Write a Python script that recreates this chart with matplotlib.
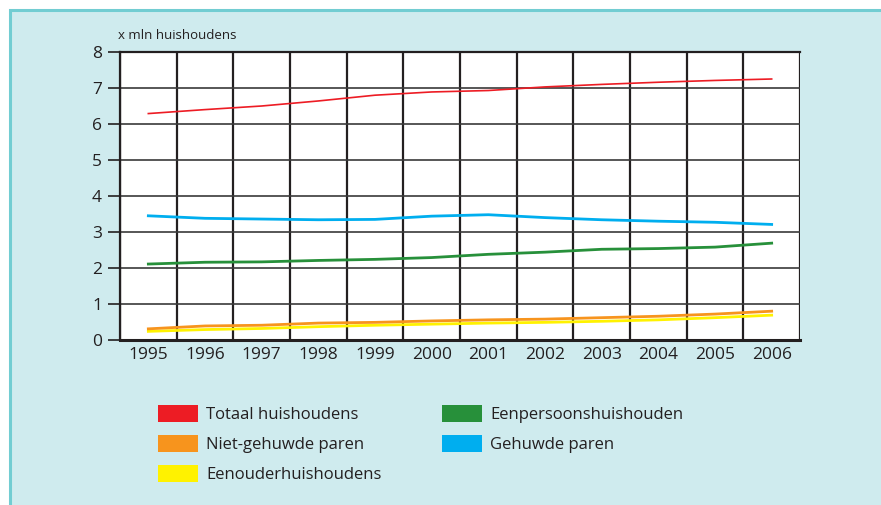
import matplotlib.pyplot as plt
from matplotlib.patches import Rectangle, Patch

plt.rcParams['font.family'] = ['Open Sans', 'DejaVu Sans']

jaren = ['1995', '1996', '1997', '1998', '1999', '2000',
         '2001', '2002', '2003', '2004', '2005', '2006']

# waarden in miljoenen huishoudens
totaal = [6.29, 6.40, 6.50, 6.64, 6.80, 6.89, 6.93, 7.03, 7.10, 7.16, 7.21, 7.25]
gehuwd = [3.45, 3.38, 3.36, 3.34, 3.35, 3.44, 3.48, 3.40, 3.34, 3.30, 3.27, 3.21]
eenpersoons = [2.11, 2.16, 2.17, 2.21, 2.24, 2.29, 2.38, 2.44, 2.52, 2.54, 2.58, 2.69]
niet_gehuwd = [0.31, 0.39, 0.41, 0.47, 0.49, 0.53, 0.56, 0.58, 0.62, 0.66, 0.72, 0.80]
eenouder = [0.24, 0.29, 0.32, 0.37, 0.41, 0.44, 0.47, 0.49, 0.52, 0.56, 0.62, 0.69]

rood = '#ed1c24'
oranje = '#f7941d'
geel = '#fff200'
groen = '#27903a'
blauw = '#00aeef'

fig = plt.figure(figsize=(8.81, 5.05), dpi=100)
fig.patch.set_facecolor('white')

# lichtblauw kader
kader = Rectangle((10 / 881, -0.05), 1.0, 1.0 - 10 / 505 + 0.05,
                  transform=fig.transFigure, facecolor='#cfebee',
                  edgecolor='#72cdd2', linewidth=2.2, zorder=0)
fig.add_artist(kader)

ax = fig.add_axes([120 / 881, 1 - 340 / 505, 680 / 881, 288 / 505])
ax.set_facecolor('white')

x = list(range(len(jaren)))
ax.plot(x, eenouder, color=geel, lw=2.0, zorder=3)
ax.plot(x, niet_gehuwd, color=oranje, lw=2.0, zorder=4)
ax.plot(x, eenpersoons, color=groen, lw=2.0, zorder=3)
ax.plot(x, gehuwd, color=blauw, lw=2.0, zorder=3)
ax.plot(x, totaal, color=rood, lw=1.2, zorder=3)

ax.set_xlim(-0.5, len(jaren) - 0.5)
ax.set_ylim(0, 8)

ax.set_xticks(x)
ax.set_xticklabels(jaren)
ax.set_xticks([i - 0.5 for i in range(len(jaren) + 1)], minor=True)
ax.set_yticks(range(0, 9))
ax.tick_params(axis='x', which='major', length=0, labelsize=12.5,
               pad=5, colors='#231f20')
ax.tick_params(axis='x', which='minor', length=0)
ax.tick_params(axis='y', length=9, width=1.2, color='#231f20',
               labelsize=12.5, pad=4, labelcolor='#231f20')

ax.grid(True, which='minor', axis='x', color='#231f20', lw=1.6, zorder=1)
ax.grid(True, which='major', axis='y', color='#3a3a3a', lw=1.2, zorder=1)
ax.set_axisbelow(True)

for kant in ['top', 'right']:
    ax.spines[kant].set_visible(False)
ax.spines['left'].set_color('#231f20')
ax.spines['left'].set_linewidth(1.6)
ax.spines['bottom'].set_color('#231f20')
ax.spines['bottom'].set_linewidth(2.2)
ax.axhline(8, color='#231f20', lw=1.6, clip_on=False, zorder=2)

fig.text(118 / 881, 1 - 35 / 505, 'x mln huishoudens', fontsize=9.5,
         color='#231f20', va='center', ha='left')

handles = [Patch(facecolor=rood), Patch(facecolor=oranje), Patch(facecolor=geel),
           Patch(facecolor=groen), Patch(facecolor=blauw)]
labels = ['Totaal huishoudens', 'Niet-gehuwde paren', 'Eenouderhuishoudens',
          'Eenpersoonshuishouden', 'Gehuwde paren']
leg = fig.legend(handles, labels, ncol=2, loc='upper left',
                 bbox_to_anchor=(143 / 881, 1 - 390 / 505), frameon=False,
                 fontsize=12, handlelength=2.4, handleheight=1.2,
                 handletextpad=0.5, columnspacing=3.6, labelspacing=0.7,
                 labelcolor='#231f20')

fig.savefig('out.png', dpi=100)
